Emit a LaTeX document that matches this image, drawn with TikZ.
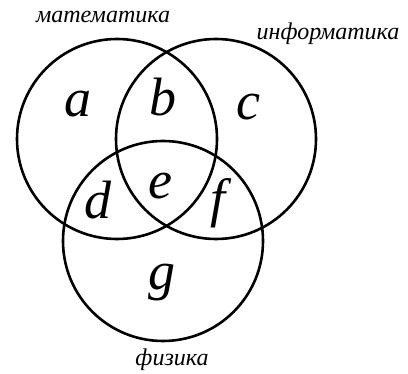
\documentclass[tikz,border=0pt]{standalone}
\usepackage{fontspec}
\setmainfont{Liberation Serif}
\tikzset{
  set/.style={circle,draw,line width=2.6pt,minimum size=200pt,inner sep=0pt},
  part/.style={font=\fontsize{54}{54}\selectfont\itshape,inner sep=0pt},
  subj/.style={font=\fontsize{24}{24}\selectfont\itshape,inner sep=0pt}
}
\begin{document}
\begin{tikzpicture}[x=1pt,y=-1pt]
        \useasboundingbox (0,0) rectangle (408,374);
        % three sets
        \draw (117,139) node[set] (M) {};
        \draw (216,139) node[set] (I) {};
        \draw (163,241) node[set] (F) {};
        % names of the sets
        \draw (103,17) node[subj] (mat) {математика};
        \draw (328,34) node[subj] (inf) {информатика};
        \draw (172,360) node[subj] (fiz) {физика};
        % parts
        \draw (78,104) node[part] (a) {a};
        \draw (163,97) node[part] (b) {b};
        \draw (248,107) node[part] (c) {c};
        \draw (98,200) node[part] (d) {d};
        \draw (160,186) node[part] (e) {e};
        \draw (218,203) node[part] (f) {f};
        \draw (162,283) node[part] (g) {g};
\end{tikzpicture}
\end{document}
